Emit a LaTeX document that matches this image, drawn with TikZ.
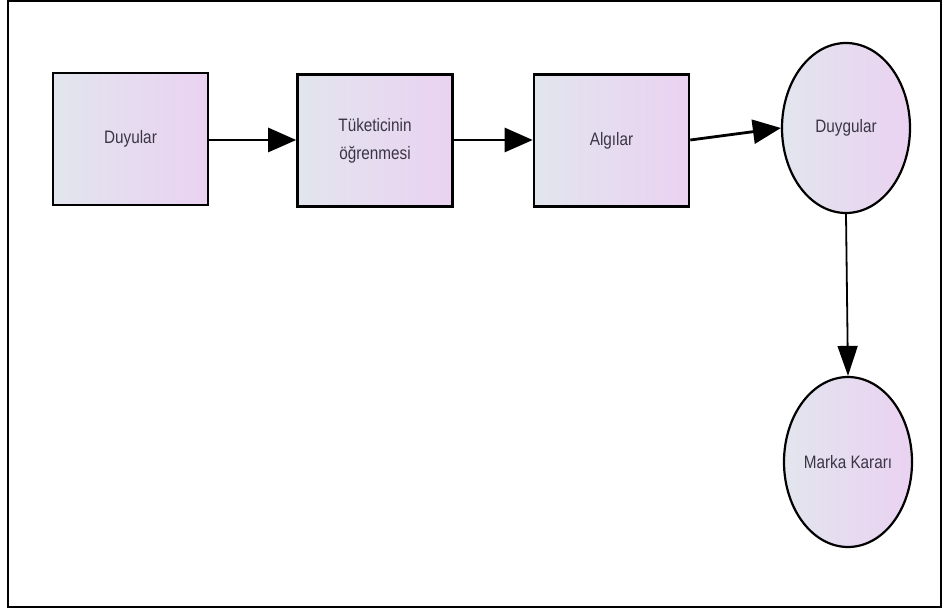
\documentclass[tikz,border=0pt]{standalone}
\usepackage{fontspec}
\setmainfont{Liberation Sans}
\usetikzlibrary{arrows.meta,shapes.geometric}
\definecolor{lc}{HTML}{E2E5EE}
\definecolor{rc}{HTML}{EAD2F1}
\definecolor{tc}{HTML}{3A3545}
\tikzset{
  boxnode/.style={draw=black, line width=2.6pt, left color=lc, right color=rc, minimum width=155pt, minimum height=132pt, inner sep=0pt, text=tc, font=\fontsize{18}{26}\selectfont, align=center},
  ellnode/.style={draw=black, line width=2.2pt, ellipse, left color=lc, right color=rc, minimum width=128pt, minimum height=170pt, inner sep=0pt, text=tc, font=\fontsize{18}{26}\selectfont},
  conn/.style={line width=2.8pt, -{Triangle[length=28pt, width=24pt]}},
  connthin/.style={line width=1.8pt, -{Triangle[length=30pt, width=20pt]}}
}
\begin{document}
\begin{tikzpicture}[x=1pt,y=-1pt]
\useasboundingbox (0,0) rectangle (946,609);
\draw[line width=1.4pt] (8,1) rectangle (941,607);
\node[boxnode] (duy) at (130.5,139) {\scalebox{0.85}[1]{Duyular}};
\node[boxnode] (tuk) at (375,140.5) {\scalebox{0.85}[1]{\begin{tabular}{@{}c@{}}Tüketicinin\\[2pt]öğrenmesi\end{tabular}}};
\node[boxnode] (alg) at (611.5,140.5) {\scalebox{0.85}[1]{Algılar}};
\node[ellnode] (dyg) at (846,128) {\scalebox{0.85}[1]{Duygular}};
\node[ellnode] (mk) at (848,462) {\scalebox{0.85}[1]{Marka Kararı}};
\draw[conn] (duy.east |- 0,140) -- (tuk.west |- 0,140);
\draw[conn] (tuk.east |- 0,140) -- (alg.west |- 0,140);
\draw[conn] (alg.east |- 0,140) -- (dyg.west);
\draw[connthin] (dyg.south) -- (mk.north);
\end{tikzpicture}
\end{document}
